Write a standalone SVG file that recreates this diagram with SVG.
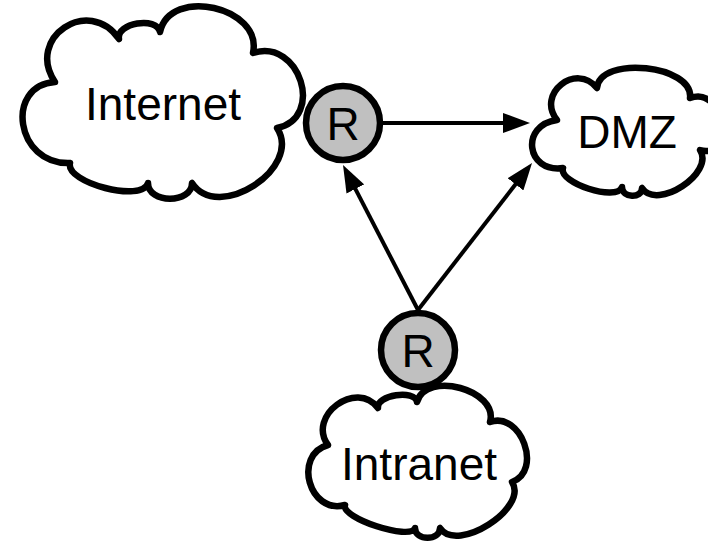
<svg xmlns="http://www.w3.org/2000/svg" width="708" height="541" viewBox="0 0 708 541">
<style>
.cloud{fill:#fff;stroke:#000;stroke-width:6.5;stroke-linejoin:round}
.router{fill:#c0c0c0;stroke:#000;stroke-width:6.5}
.lbl{font-family:"Liberation Sans",Arial,sans-serif;font-size:46px;fill:#000;text-anchor:middle}
.edge{stroke:#000;stroke-width:4;fill:none}
</style>
<defs>
<marker id="ah" markerUnits="userSpaceOnUse" markerWidth="27" markerHeight="20" refX="17" refY="10" orient="auto">
<path d="M0,0 L27,10 L0,20 z" fill="#000"/>
</marker>
</defs>
<rect width="708" height="541" fill="#fff"/>
<g id="internet">
<path class="cloud" d="M55,82 C25,38 89,-5 119,39 C116,23 157,16 160,32 C170,-14 263,7 253,53 C300,38 325,118 277,128 C303,168 218,223 192,183 C192,204 148,204 148,183 C143,203 65,183 70,163 C15,165 5,85 55,82 Z"/>
<text class="lbl" x="163" y="120">Internet</text>
</g>
<g id="dmz">
<path class="cloud" d="M557,120 C536,94 576,62 597,88 C600,55 694,65 690,98 C725,85 735,160 700,150 C715,173 657,211 642,188 C642,199 622,198 622,187 C617,202 558,183 563,168 C526,173 520,125 557,120 Z"/>
<text class="lbl" x="627" y="148">DMZ</text>
</g>
<g id="intranet">
<path class="cloud" d="M328,445 C306.6,416 356.6,379 378,408 C376,395 415,389 417,402 C426,370 499,390 490,422 C521,411 543,471 512,482 C529,508 457,554 440,528 C440,541 415,541 415,528 C410.6,541 340.6,518 345,505 C309.4,515 292.4,455 328,445 Z"/>
<text class="lbl" x="419" y="480">Intranet</text>
</g>
<g id="connectors">
<line class="edge" x1="383" y1="123" x2="520" y2="123" marker-end="url(#ah)"/>
<line class="edge" x1="418" y1="310" x2="347.6" y2="173.9" marker-end="url(#ah)"/>
<line class="edge" x1="418" y1="310" x2="525.9" y2="170.9" marker-end="url(#ah)"/>
</g>
<g id="router-top">
<circle class="router" cx="343" cy="123" r="37"/>
<text class="lbl" x="343" y="140">R</text>
</g>
<g id="router-bottom">
<circle class="router" cx="418" cy="350" r="37"/>
<text class="lbl" x="418" y="367">R</text>
</g>
</svg>
